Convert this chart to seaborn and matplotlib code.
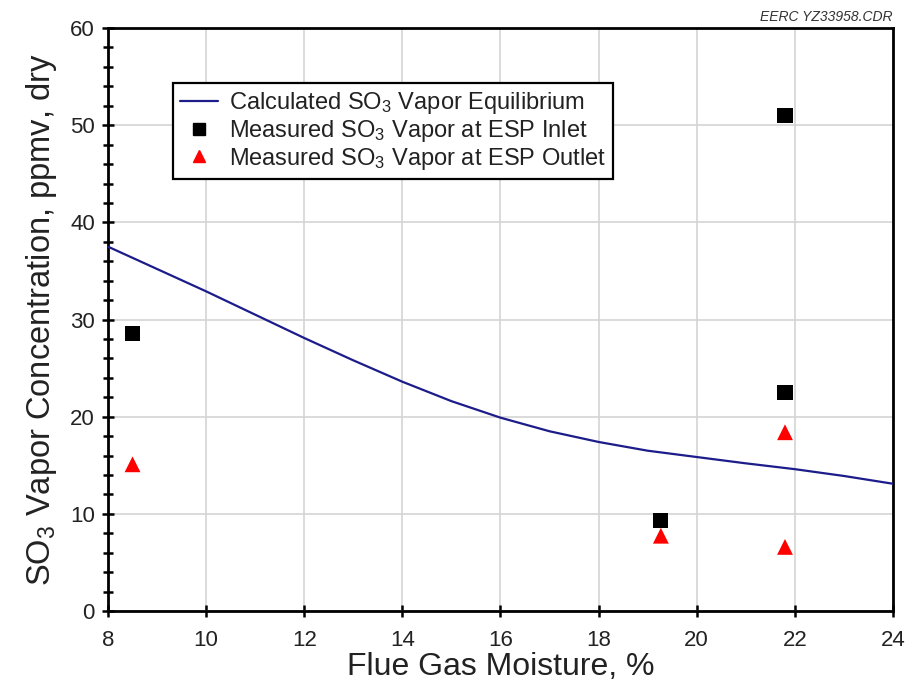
import matplotlib
matplotlib.use("Agg")
import matplotlib.pyplot as plt
import seaborn as sns
import pandas as pd
import numpy as np
from matplotlib.ticker import MultipleLocator
from matplotlib.lines import Line2D

# Data
curve_x = [8, 9, 10, 11, 12, 13, 14, 15, 16, 17, 18, 19, 20, 21, 22, 23, 24]
curve_y = [37.5, 35.2, 32.9, 30.5, 28.1, 25.8, 23.6, 21.6, 19.9, 18.5, 17.4, 16.5, 15.85, 15.2, 14.6, 13.9, 13.1]
inlet_x = [8.5, 19.27, 21.8, 21.8]
inlet_y = [28.6, 9.3, 51.0, 22.5]
outlet_x = [8.5, 19.27, 21.8, 21.8]
outlet_y = [15.1, 7.75, 18.4, 6.6]
x_ticks = [8, 10, 12, 14, 16, 18, 20, 22, 24]
y_ticks = [0, 10, 20, 30, 40, 50, 60]

sns.set_theme(style="white")
plt.rcParams['font.family'] = ['Liberation Sans', 'DejaVu Sans']
plt.rcParams['mathtext.fontset'] = 'custom'
plt.rcParams['mathtext.rm'] = 'Liberation Sans'
plt.rcParams['mathtext.it'] = 'Liberation Sans:italic'

fig = plt.figure(figsize=(9.13, 6.84), dpi=100)
ax = fig.add_axes([0.1183, 0.1067, 0.978 - 0.1183, 0.959 - 0.1067])

line_color = "#1c1c8a"
df_curve = pd.DataFrame({"x": curve_x, "y": curve_y})
df_in = pd.DataFrame({"x": inlet_x, "y": inlet_y})
df_out = pd.DataFrame({"x": outlet_x, "y": outlet_y})

sns.lineplot(data=df_curve, x="x", y="y", ax=ax, color=line_color, lw=1.6, zorder=3)
sns.scatterplot(data=df_in, x="x", y="y", ax=ax, marker="s", s=120, color="black",
                edgecolor="none", zorder=4)
sns.scatterplot(data=df_out, x="x", y="y", ax=ax, marker="^", s=130, color="red",
                edgecolor="none", zorder=4)

ax.set_xlim(8, 24)
ax.set_ylim(0, 60)
ax.set_xticks(x_ticks)
ax.set_yticks(y_ticks)
ax.yaxis.set_minor_locator(MultipleLocator(2))
ax.grid(True, which="major", color="#d4d4d4", lw=1.2)
ax.set_axisbelow(True)

for s in ax.spines.values():
    s.set_color("black")
    s.set_linewidth(2)
    s.set_visible(True)

ax.tick_params(axis="both", which="major", direction="inout", length=9, width=1.8,
               labelsize=16, color="black", labelcolor="#222222")
ax.tick_params(axis="x", which="major", pad=9)
ax.tick_params(axis="y", which="major", pad=5)
ax.tick_params(axis="y", which="minor", direction="inout", length=7, width=1.8, color="black", left=True)
ax.tick_params(axis="y", which="both", right=False)
ax.tick_params(axis="x", which="both", top=False, bottom=True)
ax.tick_params(axis="y", which="both", left=True)

ax.set_xlabel("Flue Gas Moisture, %", fontsize=23, color="#222222", labelpad=1)
ax.set_ylabel(r"SO$_3$ Vapor Concentration, ppmv, dry", fontsize=23.5, color="#222222", labelpad=8)

handles = [
    Line2D([0], [0], color=line_color, lw=1.6),
    Line2D([0], [0], marker="s", color="black", lw=0, markersize=8),
    Line2D([0], [0], marker="^", color="red", lw=0, markersize=9),
]
labels = [r"Calculated SO$_3$ Vapor Equilibrium",
          r"Measured SO$_3$ Vapor at ESP Inlet",
          r"Measured SO$_3$ Vapor at ESP Outlet"]
leg = ax.legend(handles, labels, loc="upper left", bbox_to_anchor=(0.083, 0.906),
                borderaxespad=0, fontsize=17, frameon=True, fancybox=False, framealpha=1,
                edgecolor="black", borderpad=0.3, labelspacing=0.08,
                handlelength=1.6, handletextpad=0.45)
leg.get_frame().set_linewidth(1.6)
for t in leg.get_texts():
    t.set_color("#222222")

fig.text(0.978, 0.985, "EERC YZ33958.CDR", ha="right", va="top", fontsize=10,
         style="italic", color="#333333")

fig.savefig("out.png", dpi=100)
